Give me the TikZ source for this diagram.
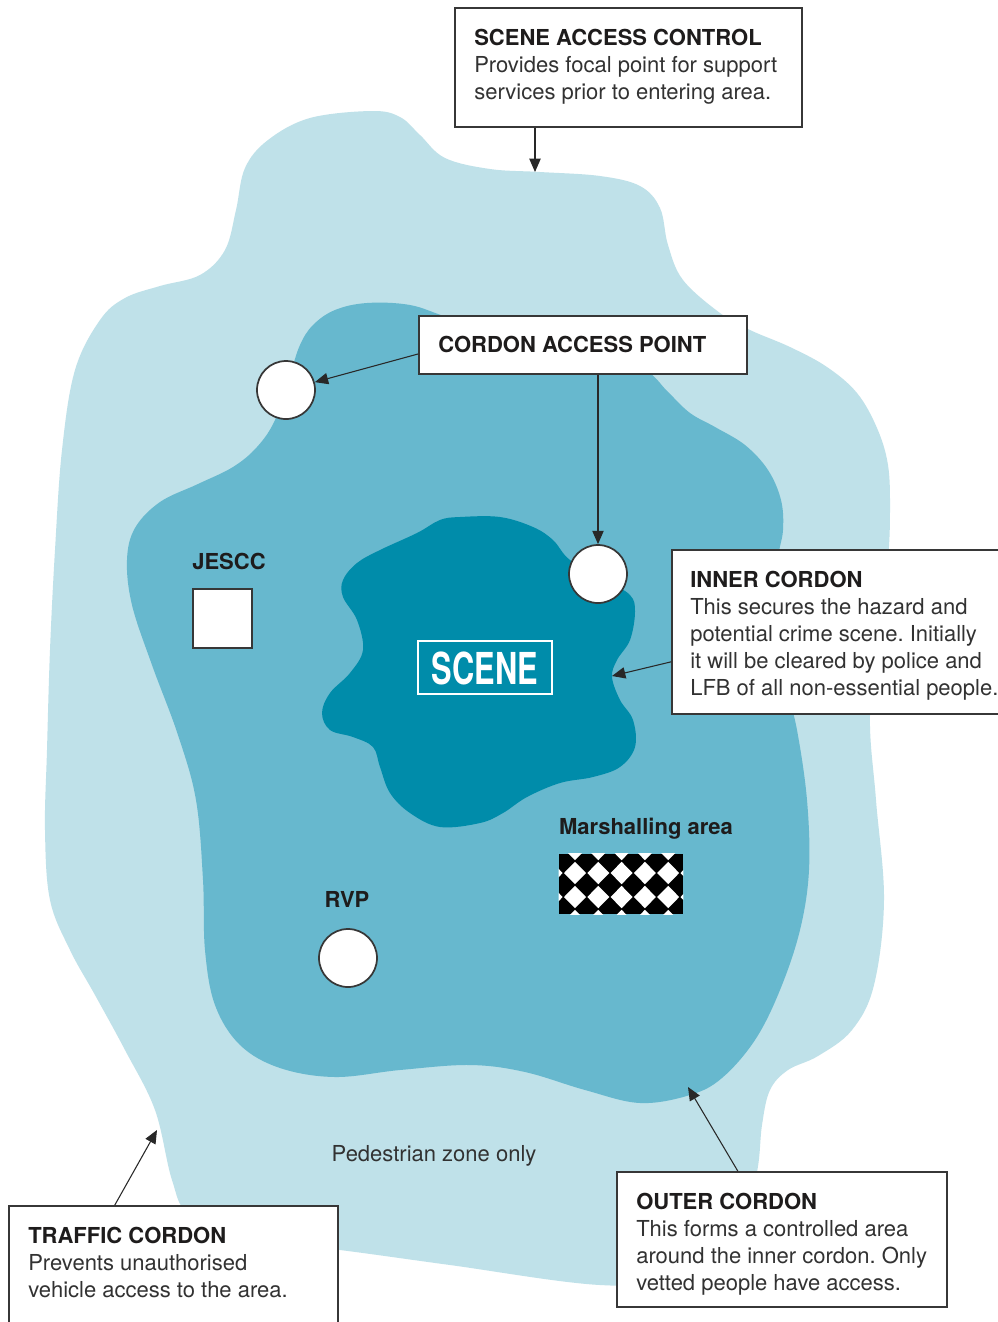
\documentclass[tikz,border=0pt]{standalone}
\usepackage{fontspec}
\usepackage{graphicx}
\setmainfont{TeX Gyre Heros}
\usetikzlibrary{arrows.meta,fit,calc}
\definecolor{lightc}{RGB}{191,225,233}
\definecolor{medc}{RGB}{103,184,206}
\definecolor{darkc}{RGB}{0,140,170}
\definecolor{boxc}{RGB}{55,55,55}
\definecolor{linec}{RGB}{40,40,40}
\definecolor{headc}{RGB}{30,28,28}
\definecolor{bodyc}{RGB}{50,50,50}
\newcommand\mybodyfont{\fontsize{16.5}{20}\selectfont}
\frenchspacing
\begin{document}
\begin{tikzpicture}[x=0.75pt,y=-0.75pt,
  box/.style={draw=boxc, line width=1.1pt, fill=white, inner sep=0pt},
  circ/.style={circle, draw=boxc, line width=1.3pt, fill=white, minimum size=43.5pt, inner sep=0pt},
  sq/.style={draw=boxc, line width=1.3pt, fill=white, inner sep=0pt},
  arr/.style={draw=linec, line width=0.8pt, -{Triangle[length=10pt,width=8.5pt]}},
  head/.style={anchor=base west, inner sep=0pt, font=\mybodyfont\bfseries, text=headc},
  body/.style={anchor=base west, inner sep=0pt, font=\mybodyfont, text=bodyc},
  lab/.style={anchor=base, inner sep=0pt, font=\mybodyfont\bfseries, text=headc},
  blob/.style={smooth cycle, tension=0.6}
]
\useasboundingbox (0,0) rectangle (998,1322);
\fill[white] (0,0) rectangle (998,1322);

% outer cordon area
\fill[lightc] plot[blob] coordinates {
(372,111) (400,117) (420,135) (445,158) (490,169) (540,172) (600,176) (640,186)
(660,208) (668,245) (683,280) (720,313) (750,330) (790,347) (827,367) (857,393)
(877,428) (888,465) (890,510) (888,560) (880,630) (870,715) (876,800) (884,900)
(874,985) (852,1030) (818,1056) (788,1070) (770,1090) (762,1125) (757,1172) (740,1240)
(690,1278) (600,1285) (450,1265) (340,1250) (250,1240) (190,1215) (172,1180)
(155,1110) (125,1050) (95,995) (70,950) (50,900) (45,830) (47,750) (50,650)
(55,550) (62,450) (75,370) (100,320) (125,298) (160,286) (200,275) (225,250)
(236,210) (245,168) (268,140) (310,118)};

% middle area
\fill[medc] plot[blob] coordinates {
(367,303) (410,305) (450,318) (520,338) (600,355) (645,370) (668,392) (690,413)
(715,427) (745,445) (768,470) (781,500) (783,530) (778,560) (776,620) (785,680)
(797,730) (807,800) (809,870) (800,930) (780,990) (755,1040) (722,1078) (690,1095)
(640,1103) (585,1090) (525,1072) (470,1065) (400,1070) (335,1077) (280,1068)
(240,1045) (215,1005) (205,950) (203,880) (196,800) (178,735) (152,665) (132,605)
(127,560) (135,528) (160,502) (198,484) (233,467) (257,447) (275,420) (290,375)
(300,345) (313,325) (335,310)};

% inner cordon / scene
\fill[darkc] plot[blob] coordinates {
(460,517) (500,517) (533,527) (553,540) (570,560) (605,580) (630,595) (635,612)
(630,640) (617,660) (612,677) (620,700) (633,720) (635,747) (620,767) (593,777)
(560,783) (527,797) (503,813) (480,823) (440,827) (410,813) (390,793) (380,767)
(373,747) (353,737) (330,730) (322,713) (330,693) (350,673) (363,650) (357,620)
(343,597) (343,580) (357,563) (380,550) (417,533) (440,520)};

% SCENE label
\node[draw=white, line width=0.8pt, inner sep=0pt, fit={(418,641) (552,694)}] (scenebox) {};
\node[inner sep=0pt, text=white, font=\fontsize{33}{33}\selectfont\bfseries] (scene) at (485,668) {\scalebox{0.7}[1]{SCENE}};

% markers
\node[circ] (c1) at (286,390) {};
\node[circ] (c2) at (598,574) {};
\node[circ] (rvp) at (348,958) {};
\node[sq, fit={(193,589) (252,648)}] (jescc) {};
\node[fill=black, inner sep=0pt, fit={(559,854) (683,914)}] (marsh) {};
\begin{scope}
\clip (marsh.north west) rectangle (marsh.south east);
\foreach \i in {-1,...,5} {
  \foreach \j in {-1,...,2} {
    \fill[white] ({575+23.3*\i},{873+24*\j-11.2}) -- ({575+23.3*\i+11},{873+24*\j})
      -- ({575+23.3*\i},{873+24*\j+11.2}) -- ({575+23.3*\i-11},{873+24*\j}) -- cycle;
  }
}
\end{scope}

% place labels
\node[lab] (ljescc) at (229,569) {JESCC};
\node[lab] (lrvp) at (347,907) {RVP};
\node[lab] (lmarsh) at (646,834) {Marshalling area};
\node[anchor=base, inner sep=0pt, font=\mybodyfont, text=bodyc] (lped) at (434,1161) {Pedestrian zone only};

% boxes
\node[box, fit={(455,8) (802,127)}] (sac) {};
\node[head] at (474,45) {SCENE ACCESS CONTROL};
\node[body] at (474,72) {Provides focal point for support};
\node[body] at (474,99) {services prior to entering area.};

\node[box, fit={(419,316) (747,374)}] (cap) {};
\node[head] at (438,352) {CORDON ACCESS POINT};

\node[box, fit={(672,550) (1010,714)}] (inner) {};
\node[head] at (690,587) {INNER CORDON};
\node[body] at (690,614) {This secures the hazard and};
\node[body] at (690,641) {potential crime scene. Initially};
\node[body] at (690,668) {it will be cleared by police and};
\node[body] at (690,695) {LFB of all non-essential people.};

\node[box, fit={(9,1206) (338,1340)}] (traffic) {};
\node[head] at (28,1243) {TRAFFIC CORDON};
\node[body] at (28,1270) {Prevents unauthorised};
\node[body] at (28,1297) {vehicle access to the area.};

\node[box, fit={(617,1172) (947,1307)}] (outer) {};
\node[head] at (636,1209) {OUTER CORDON};
\node[body] at (636,1236) {This forms a controlled area};
\node[body] at (636,1263) {around the inner cordon. Only};
\node[body] at (636,1290) {vetted people have access.};

% connectors
\coordinate (sacend) at (535,172);
\coordinate (innerend) at (612,676);
\coordinate (trafficend) at (157,1130);
\coordinate (outerend) at (688,1087);
\draw[arr] (sac.south -| sacend) -- (sacend);
\draw[arr] ($(cap.north west)!0.65!(cap.south west)$) -- (c1);
\draw[arr] (cap.south -| c2) -- (c2);
\draw[arr] ($(inner.north west)!0.68!(inner.south west)$) -- (innerend);
\draw[arr] ($(traffic.north west)!0.322!(traffic.north east)$) -- (trafficend);
\draw[arr] ($(outer.north west)!0.367!(outer.north east)$) -- (outerend);
\end{tikzpicture}
\end{document}
